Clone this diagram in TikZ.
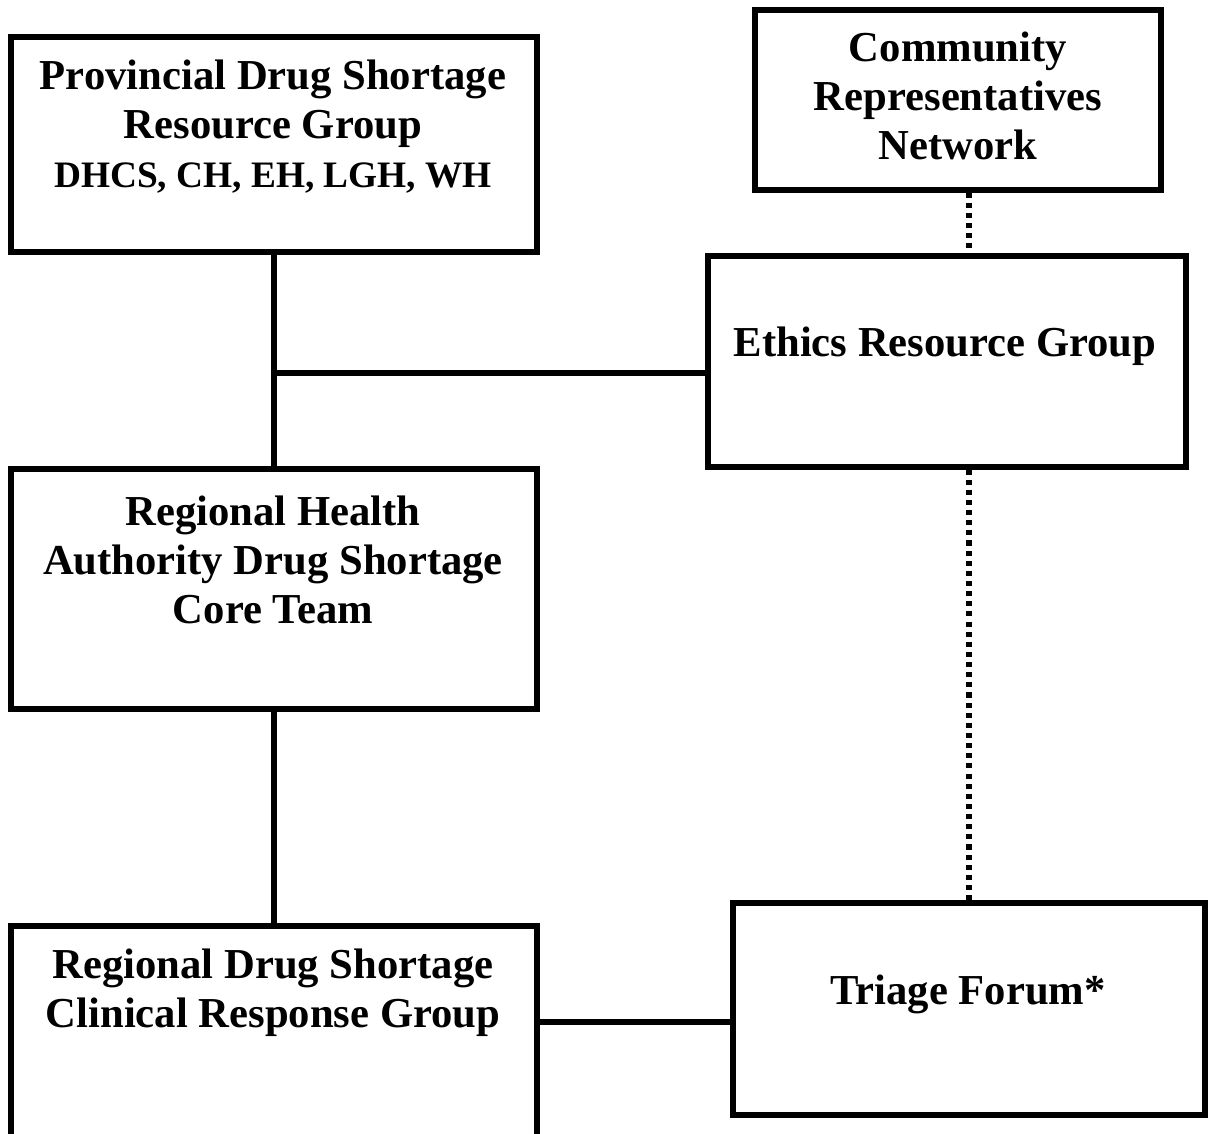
\documentclass[tikz,border=0pt]{standalone}
\usepackage{fontspec}
\setmainfont{Liberation Serif}
\usetikzlibrary{fit}

\tikzset{
  box/.style={draw, line width=1.9pt, inner sep=0pt},
  txt/.style={align=center, font=\bfseries\fontsize{16}{18.4}\selectfont},
  link/.style={line width=1.9pt},
  dotlink/.style={line width=1.9pt, dash pattern=on 1.9pt off 1.9pt},
}

\begin{document}
\begin{tikzpicture}[x=0.375pt, y=-0.375pt]
    \useasboundingbox (0,0) rectangle (1209,1133);

    % Boxes
    \node[box, fit={(11,37) (537,252)}] (prov) {};
    \node[box, fit={(755,10) (1161,190)}] (comm) {};
    \node[box, fit={(708,256) (1186,467)}] (ethics) {};
    \node[box, fit={(11,469) (537,709)}] (rh) {};
    \node[box, fit={(11,926) (537,1150)}] (rd) {};
    \node[box, fit={(733,903) (1205,1115)}] (tri) {};

    % Texts
    \node[txt] (provtxt) at (273,127) {Provincial Drug Shortage\\Resource Group\\{\fontsize{14}{16}\selectfont DHCS, CH, EH, LGH, WH}};
    \node[txt] (commtxt) at (958,96) {Community\\Representatives\\Network};
    \node[txt] (ethicstxt) at (945,346) {Ethics Resource Group};
    \node[txt] (rhtxt) at (273,560) {Regional Health\\Authority Drug Shortage\\Core Team};
    \node[txt] (rdtxt) at (273,993) {Regional Drug Shortage\\Clinical Response Group};
    \node[txt] (tritxt) at (968,994) {Triage Forum*};

    % Connectors
    \coordinate (j) at (274,373);
    \coordinate (k) at (0,1022);
    \draw[link] (prov.south) -- (rh.north);
    \draw[link] (j) -- (j -| ethics.west);
    \draw[link] (rh.south) -- (rd.north);
    \draw[link] (k -| rd.east) -- (k -| tri.west);
    \draw[dotlink] (comm.south -| tri.north) -- (ethics.north -| tri.north);
    \draw[dotlink] (ethics.south -| tri.north) -- (tri.north);

\end{tikzpicture}
\end{document}
